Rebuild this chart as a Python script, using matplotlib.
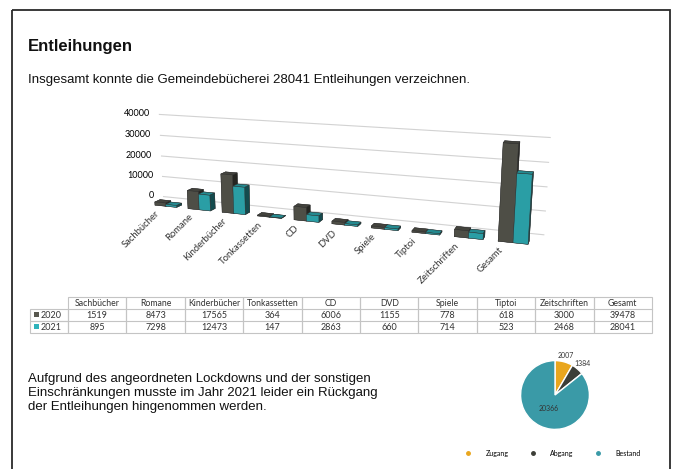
import matplotlib
matplotlib.use('Agg')
import warnings
import matplotlib.pyplot as plt
import numpy as np
from matplotlib.patches import Rectangle
from matplotlib.lines import Line2D
from mpl_toolkits.mplot3d import proj3d

categories = ['Sachbücher', 'Romane', 'Kinderbücher', 'Tonkassetten', 'CD', 'DVD',
              'Spiele', 'Tiptoi', 'Zeitschriften', 'Gesamt']
series_names = ['2020', '2021']
values_2020 = [1519, 8473, 17565, 364, 6006, 1155, 778, 618, 3000, 39478]
values_2021 = [895, 7298, 12473, 147, 2863, 660, 714, 523, 2468, 28041]
z_ticks = [0, 10000, 20000, 30000, 40000]
pie_labels = ['Zugang', 'Abgang', 'Bestand']
pie_values = [2007, 1384, 20366]

C2020 = '#58584f'
C2021 = '#2fb3bb'
PIE_COLORS = ['#e9a61e', '#3c3e37', '#3a9aa7']

plt.rcParams['font.family'] = ['Liberation Sans', 'DejaVu Sans']
fig = plt.figure(figsize=(6.78, 4.69), dpi=100)
fig.patch.set_facecolor('white')

bg = fig.add_axes([0, 0, 1, 1])
bg.set_xlim(0, 678)
bg.set_ylim(469, 0)
bg.axis('off')
bg.add_patch(Rectangle((12, 10), 658, 470, fill=False, ec='#2a2a2a', lw=1.3))

bg.text(28, 47, 'Entleihungen', fontsize=12, fontweight='bold', va='center', ha='left', color='#111')
bg.text(28, 80, 'Insgesamt konnte die Gemeindebücherei 28041 Entleihungen verzeichnen.',
        fontsize=9.5, va='center', ha='left', color='#111')
bg.text(28, 373, 'Aufgrund des angeordneten Lockdowns und der sonstigen\n'
        'Einschränkungen musste im Jahr 2021 leider ein Rückgang\n'
        'der Entleihungen hingenommen werden.',
        fontsize=9.5, va='top', ha='left', color='#111', linespacing=1.2)

# ---- table ----
tfont = ['Lato', 'DejaVu Sans']
x0, lab_w = 30, 38
col_w = (652 - x0 - lab_w) / len(categories)
ys = [297, 309, 321, 333]
gc = '#c4c4c4'
rows = [values_2020, values_2021]
row_cols = [C2020, C2021]
for j, cat in enumerate(categories):
    cx = x0 + lab_w + j * col_w
    bg.add_patch(Rectangle((cx, ys[0]), col_w, ys[3] - ys[0], fill=False, ec=gc, lw=0.8))
    bg.text(cx + col_w / 2, (ys[0] + ys[1]) / 2, cat, ha='center', va='center',
            fontsize=6.3, family=tfont, color='#333')
    for r in range(2):
        bg.text(cx + col_w / 2, (ys[r + 1] + ys[r + 2]) / 2, str(rows[r][j]), ha='center',
                va='center', fontsize=6.5, family=tfont, color='#333')
for r in range(2):
    bg.add_patch(Rectangle((x0, ys[r + 1]), lab_w, 12, fill=False, ec=gc, lw=0.8))
    bg.plot([x0 + lab_w, 652], [ys[r + 1], ys[r + 1]], color=gc, lw=0.8)
    bg.add_patch(Rectangle((x0 + 4, (ys[r + 1] + ys[r + 2]) / 2 - 2.5), 5, 5, color=row_cols[r], lw=0))
    bg.text(x0 + 11, (ys[r + 1] + ys[r + 2]) / 2, series_names[r], ha='left', va='center',
            fontsize=6.5, family=tfont, color='#333')

# ---- 3D bar chart (square axes, centred on the chart) ----
cxp, cyp, side = 325, 180, 470
ax3 = fig.add_axes([(cxp - side / 2) / 678, (469 - cyp - side / 2) / 469, side / 678, side / 469],
                   projection='3d')
ax3.set_facecolor((1, 1, 1, 0))
ax3.set_proj_type('persp', focal_length=0.3)
ax3.view_init(elev=13, azim=-70)
ax3.set_box_aspect((6, 0.5, 1.35), zoom=0.88)
ax3.set_axis_off()
n = len(categories)
xs = np.arange(n)
w = 0.33
bx = np.concatenate([xs - w, xs])
bz = np.concatenate([values_2020, values_2021])
bcols = [C2020] * n + [C2021] * n
ax3.bar3d(bx, np.zeros(2 * n), np.zeros(2 * n), w, 0.3, bz, color=bcols, shade=True,
          edgecolor='#333', linewidth=0.3)
for t in z_ticks:
    ax3.plot([-0.6, n - 0.4], [1, 1], [t, t], color='#d2d2d2', lw=0.8)
    ax3.text(-0.9, 1, t, f'{t}', ha='right', va='center', fontsize=6.5, family=tfont)
ax3.set_xlim(-0.6, n - 0.4)
ax3.set_ylim(0, 1)
ax3.set_zlim(0, 40000)

fig.canvas.draw()
with warnings.catch_warnings():
    warnings.simplefilter('ignore')
    for i, c in enumerate(categories):
        px, py, _ = proj3d.proj_transform(i - w, 0, -1800, ax3.M)
        disp = ax3.transData.transform((px, py))
        fx, fy = fig.transFigure.inverted().transform(disp)
        fig.text(fx, fy, c, rotation=45, ha='right', va='top', fontsize=6.8,
                 family=tfont, color='#333', rotation_mode='anchor')

# ---- pie ----
axp = fig.add_axes([512 / 678, (469 - 438) / 469, 86 / 678, 86 / 469])
wedges, _ = axp.pie(pie_values, colors=PIE_COLORS, startangle=90, counterclock=False,
                    wedgeprops=dict(edgecolor='white', linewidth=1))
axp.set_aspect('equal')
for k, wdg in enumerate(wedges):
    ang = np.deg2rad((wdg.theta1 + wdg.theta2) / 2)
    r = 1.2 if k < 2 else 0.45
    axp.text(r * np.cos(ang), r * np.sin(ang), str(pie_values[k]), ha='center', va='center',
             fontsize=5, family=tfont, color='#333')
handles = [Line2D([], [], marker='o', ls='', color=c, markersize=2.5) for c in PIE_COLORS]
fig.legend(handles, pie_labels, loc='center', bbox_to_anchor=(551 / 678, (469 - 453) / 469),
           ncol=3, frameon=False, prop={'family': tfont, 'size': 5},
           handletextpad=1.5, columnspacing=2.5)

fig.savefig('out.png', dpi=100)
